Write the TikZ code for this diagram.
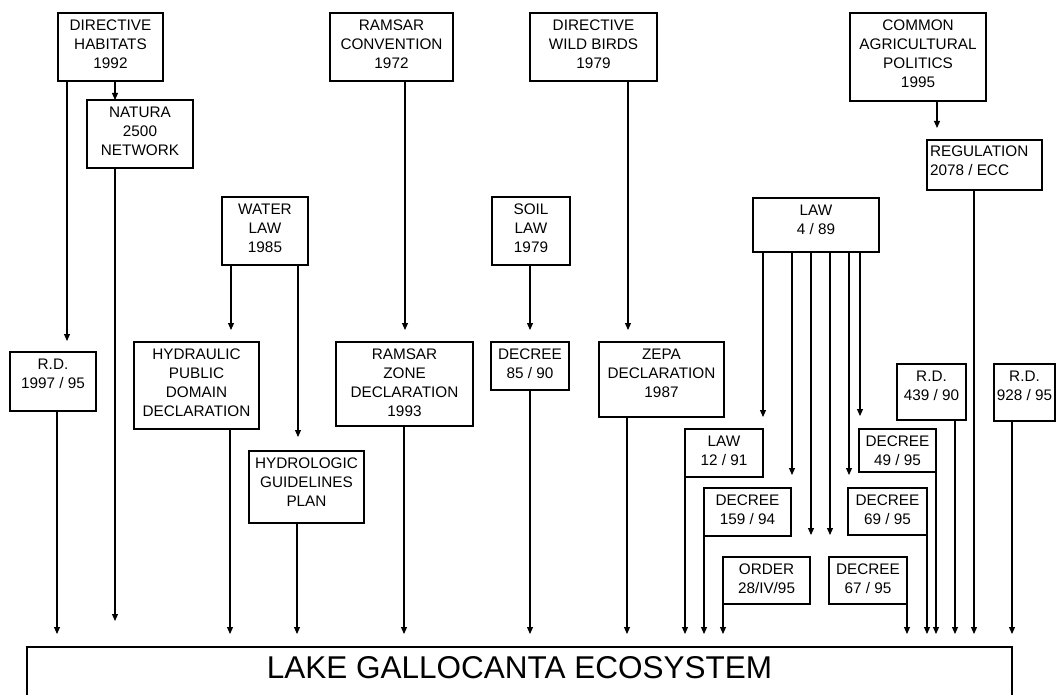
\documentclass[tikz,border=0pt]{standalone}
\usepackage{fontspec}
\setmainfont{Liberation Sans}
\usetikzlibrary{arrows.meta}
\newcommand{\bt}[3]{\parbox[c][#2pt][t]{#1pt}{\centering\vspace*{7pt}#3}}
\newcommand{\btl}[3]{\parbox[c][#2pt][t]{#1pt}{\raggedright\leftskip=3pt\relax\vspace*{6pt}#3}}
\begin{document}
\begin{tikzpicture}[x=1pt,y=-1pt,
  box/.style={draw, line width=1.2pt, inner sep=0pt, outer sep=0pt, anchor=north west,
    font=\fontsize{15.3}{19}\selectfont},
  arr/.style={line width=1.1pt, -{Triangle[length=7pt,width=6pt]}},
  tolake/.style={arr, shorten >=13pt}]
\useasboundingbox (0,0) rectangle (1056,695);
\fill[white] (0,0) rectangle (1056,695);

% boxes
\node[box] (dh) at (58,13) {\bt{105}{68}{DIRECTIVE\\HABITATS\\1992}};
\node[box] (natura) at (87,100) {\bt{106}{68}{NATURA\\2500\\NETWORK}};
\node[box] (ramsarc) at (330,13) {\bt{123}{68}{RAMSAR\\CONVENTION\\1972}};
\node[box] (dwb) at (530,13) {\bt{127}{68}{DIRECTIVE\\WILD BIRDS\\1979}};
\node[box] (cap) at (850,13) {\bt{136}{88}{COMMON\\AGRICULTURAL\\POLITICS\\1995}};
\node[box] (reg) at (927,140) {\btl{115}{50}{REGULATION\\2078 / ECC}};
\node[box] (water) at (222,197) {\bt{86}{68}{WATER\\LAW\\1985}};
\node[box] (soil) at (492,197) {\bt{78}{68}{SOIL\\LAW\\1979}};
\node[box] (law489) at (753,198) {\bt{126}{54}{LAW\\4 / 89}};
\node[box] (rd1997) at (10,352) {\bt{86}{59}{R.D.\\1997 / 95}};
\node[box] (hydraulic) at (134,342) {\bt{125}{87}{HYDRAULIC\\PUBLIC\\DOMAIN\\DECLARATION}};
\node[box] (ramsarz) at (336,342) {\bt{137}{84}{RAMSAR\\ZONE\\DECLARATION\\1993}};
\node[box] (dec8590) at (491,342) {\bt{78}{48}{DECREE\\85 / 90}};
\node[box] (zepa) at (599,342) {\bt{125}{75}{ZEPA\\DECLARATION\\1987}};
\node[box] (rd439) at (897,364) {\bt{69}{56}{R.D.\\439 / 90}};
\node[box] (rd928) at (994,364) {\bt{61}{57}{R.D.\\928 / 95}};
\node[box] (law1291) at (685,429) {\bt{78}{48}{LAW\\12 / 91}};
\node[box] (dec4995) at (859,429) {\bt{77}{43}{DECREE\\49 / 95}};
\node[box] (hydrologic) at (249,451) {\bt{115}{72}{HYDROLOGIC\\GUIDELINES\\PLAN}};
\node[box] (dec15994) at (704,488) {\bt{87}{48}{DECREE\\159 / 94}};
\node[box] (dec6995) at (848,488) {\bt{79}{47}{DECREE\\69 / 95}};
\node[box] (order) at (723,557) {\bt{87}{47}{ORDER\\28/IV/95}};
\node[box] (dec6795) at (829,557) {\bt{78}{47}{DECREE\\67 / 95}};

\node[draw, line width=1.2pt, inner sep=0pt, outer sep=0pt, anchor=north west,
  minimum width=985pt, minimum height=70pt] (lake) at (27,647) {};
\node[font=\fontsize{31.5}{36}\selectfont, anchor=base] (laketxt) at (519.5,678) {LAKE GALLOCANTA ECOSYSTEM};

% start points of connectors
\coordinate (c1) at ([xshift=57pt]dh.south west);
\coordinate (c2) at ([xshift=9pt]dh.south west);
\coordinate (c3) at ([xshift=28pt]natura.south west);
\coordinate (c4) at ([xshift=47pt]rd1997.south west);
\coordinate (c5) at ([xshift=9pt]water.south west);
\coordinate (c6) at ([xshift=76pt]water.south west);
\coordinate (c7) at ([xshift=96pt]hydraulic.south west);
\coordinate (c8) at ([xshift=48pt]hydrologic.south west);
\coordinate (c9) at ([xshift=75pt]ramsarc.south west);
\coordinate (c10) at ([xshift=68pt]ramsarz.south west);
\coordinate (c11) at ([xshift=38pt]soil.south west);
\coordinate (c12) at ([xshift=39pt]dec8590.south west);
\coordinate (c13) at ([xshift=98pt]dwb.south west);
\coordinate (c14) at ([xshift=28pt]zepa.south west);
\coordinate (c15) at ([xshift=87pt]cap.south west);
\coordinate (c16) at ([xshift=47pt]reg.south west);
\coordinate (c17) at ([xshift=10pt]law489.south west);
\coordinate (c18) at ([xshift=39pt]law489.south west);
\coordinate (c19) at ([xshift=58pt]law489.south west);
\coordinate (c20) at ([xshift=77pt]law489.south west);
\coordinate (c21) at ([xshift=96pt]law489.south west);
\coordinate (c22) at ([xshift=107pt]law489.south west);
\coordinate (c29) at ([xshift=58pt]rd439.south west);
\coordinate (c30) at ([xshift=18pt]rd928.south west);

% connectors between boxes
\draw[arr] (c1) -- (c1 |- natura.north);
\draw[arr, shorten >=11pt] (c2) -- (c2 |- rd1997.north);
\draw[arr, shorten >=12pt] (c5) -- (c5 |- hydraulic.north);
\draw[arr, shorten >=14pt] (c6) -- (c6 |- hydrologic.north);
\draw[arr, shorten >=12pt] (c9) -- (c9 |- ramsarz.north);
\draw[arr, shorten >=12pt] (c11) -- (c11 |- dec8590.north);
\draw[arr, shorten >=12pt] (c13) -- (c13 |- zepa.north);
\draw[arr, shorten >=12pt] (c15) -- (c15 |- reg.north);
\draw[arr, shorten >=12pt] (c17) -- (c17 |- law1291.north);
\draw[arr, shorten >=13pt] (c18) -- (c18 |- dec15994.north);
\draw[arr, shorten >=22pt] (c19) -- (c19 |- order.north);
\draw[arr, shorten >=22pt] (c20) -- (c20 |- dec6795.north);
\draw[arr, shorten >=13pt] (c21) -- (c21 |- dec6995.north);
\draw[arr, shorten >=13pt] (c22) -- (c22 |- dec4995.north);

% connectors to the lake
\draw[arr, shorten >=26pt] (c3) -- (c3 |- lake.north);
\draw[tolake] (c4) -- (c4 |- lake.north);
\draw[tolake] (c7) -- (c7 |- lake.north);
\draw[tolake] (c8) -- (c8 |- lake.north);
\draw[tolake] (c10) -- (c10 |- lake.north);
\draw[tolake] (c12) -- (c12 |- lake.north);
\draw[tolake] (c14) -- (c14 |- lake.north);
\draw[tolake] (c16) -- (c16 |- lake.north);
\draw[tolake] (law1291.south west) -- (law1291.south west |- lake.north);
\draw[tolake] (dec15994.south west) -- (dec15994.south west |- lake.north);
\draw[tolake] (order.south west) -- (order.south west |- lake.north);
\draw[tolake] (dec6795.south east) -- (dec6795.south east |- lake.north);
\draw[tolake] (dec6995.south east) -- (dec6995.south east |- lake.north);
\draw[tolake] (dec4995.south east) -- (dec4995.south east |- lake.north);
\draw[tolake] (c29) -- (c29 |- lake.north);
\draw[tolake] (c30) -- (c30 |- lake.north);
\end{tikzpicture}
\end{document}
